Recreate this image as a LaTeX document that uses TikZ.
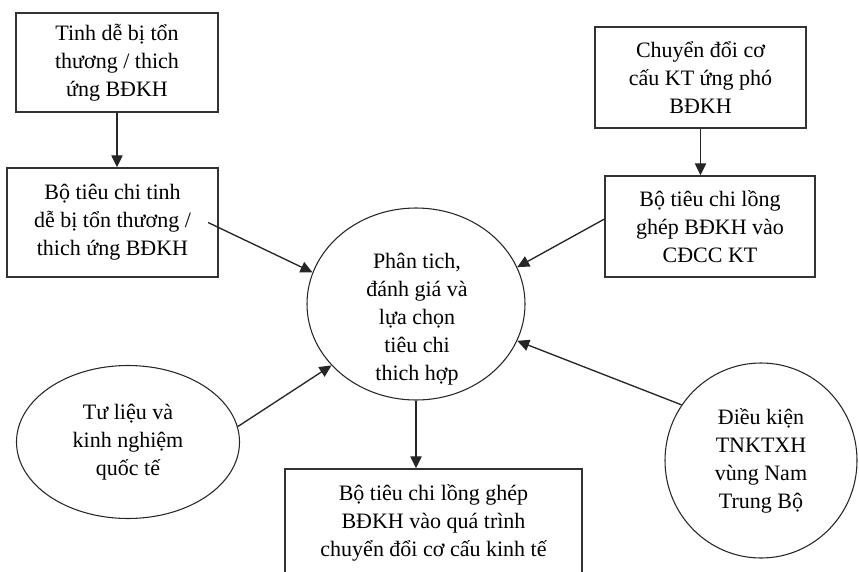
\documentclass[tikz,border=0pt]{standalone}
\usepackage{fontspec}
\setmainfont{Liberation Serif}
\usetikzlibrary{arrows.meta,shapes.geometric}
\begin{document}
\begin{tikzpicture}[x=0.75pt,y=0.75pt,yscale=-1,xscale=1,
    every node/.style={font=\fontsize{16.5}{21}\selectfont, align=center, inner sep=0pt},
    rectbox/.style={draw=black!80, line width=1.1pt, rectangle},
    roundbox/.style={draw=black!85, line width=0.8pt, ellipse},
    arr/.style={-{Triangle[length=9pt,width=8.5pt]}, line width=1pt, draw=black!85}]
    \useasboundingbox (0,0) rectangle (859,571);

    %Shape: Rectangle
    \node [rectbox, minimum width=151.5pt, minimum height=74.25pt] (tinh) at (117,62.5) {Tinh dễ bị tổn\\thương / thich\\ứng BĐKH};
    %Shape: Rectangle
    \node [rectbox, minimum width=158.25pt, minimum height=81.75pt] (botinh) at (112.5,222.5) {Bộ tiêu chi tinh\\dễ bị tổn thương /\\thich ứng BĐKH};
    %Shape: Rectangle
    \node [rectbox, minimum width=158.25pt, minimum height=75.75pt] (chuyen) at (700.5,77.5) {Chuyển đổi cơ\\cấu KT ứng phó\\BĐKH};
    %Shape: Rectangle
    \node [rectbox, minimum width=157.5pt, minimum height=75.75pt] (bolong) at (710,226.5) {Bộ tiêu chi lồng\\ghép BĐKH vào\\CĐCC KT};
    %Shape: Rectangle
    \node [rectbox, minimum width=222.75pt, minimum height=81pt] (boket) at (433.5,523) {Bộ tiêu chi lồng ghép\\BĐKH vào quá trình\\chuyển đổi cơ cấu kinh tế};

    %Shape: Ellipse
    \node [roundbox, minimum width=163.5pt, minimum height=144pt] (phantich) at (416,304) {};
    % Text Node
    \node (phantichtxt) at (417,319) {Phân tich,\\đánh giá và\\lựa chọn\\tiêu chi\\thich hợp};
    %Shape: Ellipse
    \node [roundbox, minimum width=167.25pt, minimum height=114.75pt] (tulieu) at (128,442) {Tư liệu và\\kinh nghiệm\\quốc tế};
    %Shape: Ellipse
    \node [roundbox, minimum width=144pt, minimum height=146.25pt] (dieukien) at (761,460.5) {Điều kiện\\TNKTXH\\vùng Nam\\Trung Bộ};

    %Straight Lines
    \draw [arr] (tinh.south) -- (tinh.south |- botinh.north);
    %Straight Lines
    \draw [arr] (chuyen.south) -- (chuyen.south |- bolong.north);
    %Straight Lines
    \draw [arr] ([xshift=-8pt]botinh.east) -- (phantich.163);
    %Straight Lines
    \draw [arr] (bolong.176) -- (phantich.20);
    %Straight Lines
    \draw [arr] (tulieu.8) -- (phantich.216);
    %Straight Lines
    \draw [arr] (dieukien.145) -- (phantich.340);
    %Straight Lines
    \draw [arr] (phantich.south) -- (phantich.south |- boket.north);
\end{tikzpicture}
\end{document}
